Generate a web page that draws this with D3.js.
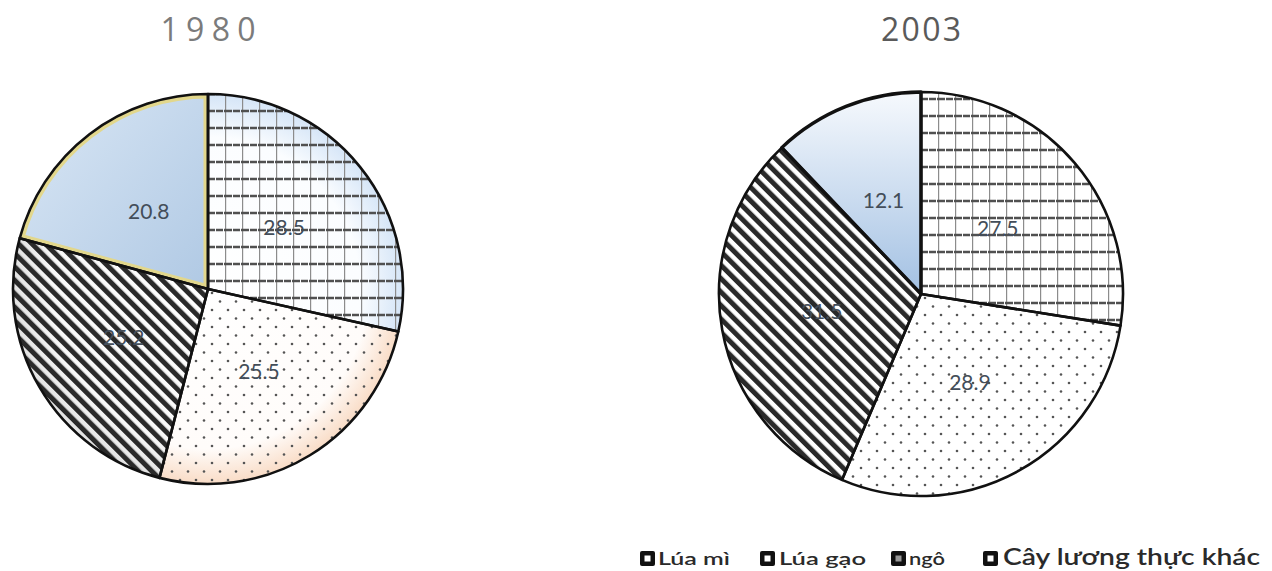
<!DOCTYPE html>
<html>
<head>
<meta charset="utf-8">
<script src="https://cdn.jsdelivr.net/npm/d3@7"></script>
<style>
  html, body { margin: 0; background: #fff; }
  svg { display: block; }
</style>
</head>
<body>
<svg id="chart" width="1272" height="571"></svg>
<script>
// data
const categories = ['Lúa mì', 'Lúa gạo', 'ngô', 'Cây lương thực khác'];
const years = ['1980', '2003'];
const values1980 = [28.5, 25.5, 25.2, 20.8];
const values2003 = [27.5, 28.9, 31.5, 12.1];

const svg = d3.select('#chart');
const defs = svg.append('defs');

// --- hatch patterns (shared) ---
const grid = defs.append('pattern').attr('id', 'grid')
  .attr('patternUnits', 'userSpaceOnUse').attr('width', 17).attr('height', 17);
grid.append('line').attr('x1', 0.5).attr('x2', 0.5).attr('y1', 0).attr('y2', 17)
  .attr('stroke', '#8c8c8c').attr('stroke-width', 1.4);
grid.append('line').attr('x1', 0).attr('x2', 17).attr('y1', 9).attr('y2', 9)
  .attr('stroke', '#505050').attr('stroke-width', 2.4).attr('stroke-dasharray', '7 1');

const dots = defs.append('pattern').attr('id', 'dots')
  .attr('patternUnits', 'userSpaceOnUse').attr('width', 16).attr('height', 17);
dots.append('circle').attr('cx', 4).attr('cy', 4).attr('r', 1.3).attr('fill', '#555');
dots.append('circle').attr('cx', 12).attr('cy', 12.5).attr('r', 1.3).attr('fill', '#555');

const stripes = defs.append('pattern').attr('id', 'stripes')
  .attr('patternUnits', 'userSpaceOnUse').attr('width', 9.5).attr('height', 9.5)
  .attr('patternTransform', 'rotate(-45)');
stripes.append('rect').attr('x', 0).attr('y', 0).attr('width', 5).attr('height', 9.5)
  .attr('fill', '#2a2a2a');

// --- layout ---
const pieLayout = [
  { cx: 208, cy: 289, r: 195, titleY: 41, titleW: 95, titleColor: '#7b7b7b',
    bases: ['rg-blue', 'rg-peach', 'rg-grey', 'lg-blue1'], edge: [null, null, null, '#e2d78c'],
    thick: [] },
  { cx: 921, cy: 294, r: 202, titleY: 41, titleW: 80, titleColor: '#5a5a5a',
    bases: ['#ffffff', '#ffffff', '#ffffff', 'lg-blue2'], edge: [null, null, null, null],
    thick: [3] }
];
const overlays = ['url(#grid)', 'url(#dots)', 'url(#stripes)', null];
const seriesByYear = [values1980, values2003];

function radial(id, r, stops) {
  const g = defs.append('radialGradient').attr('id', id)
    .attr('gradientUnits', 'userSpaceOnUse').attr('cx', 0).attr('cy', 0).attr('r', r);
  stops.forEach(([o, c]) => g.append('stop').attr('offset', o).attr('stop-color', c));
}
function linear(id, x1, y1, x2, y2, stops) {
  const g = defs.append('linearGradient').attr('id', id)
    .attr('gradientUnits', 'userSpaceOnUse')
    .attr('x1', x1).attr('y1', y1).attr('x2', x2).attr('y2', y2);
  stops.forEach(([o, c]) => g.append('stop').attr('offset', o).attr('stop-color', c));
}

const pie = d3.pie().sort(null).value(d => d);

pieLayout.forEach((L, i) => {
  const r = L.r;
  radial('rg-blue' + i, r, [[0, '#ffffff'], [0.78, '#fbfdff'], [1, '#d5e5f7']]);
  radial('rg-peach' + i, r, [[0, '#ffffff'], [0.82, '#fffcfa'], [1, '#f9dcc6']]);
  radial('rg-grey' + i, r, [[0, '#ffffff'], [0.8, '#f8f8f8'], [1, '#e2e2e2']]);
  linear('lg-blue1' + i, -r * 0.8, -r * 0.7, 0, 0, [[0, '#d0e0f1'], [1, '#b0c9e4']]);
  linear('lg-blue2' + i, 0, -r, 0, 0, [[0, '#f6f9fd'], [1, '#a3c1e3']]);

  const arc = d3.arc().innerRadius(0).outerRadius(r);
  const arcs = pie(seriesByYear[i]);
  const g = svg.append('g').attr('transform', `translate(${L.cx},${L.cy})`);

  // base fills
  g.selectAll('path.base').data(arcs).join('path').attr('class', 'base')
    .attr('d', arc)
    .attr('fill', (d, k) => L.bases[k].startsWith('#') ? L.bases[k] : `url(#${L.bases[k]}${i})`);

  // inner coloured edge (1980 "other" slice)
  arcs.forEach((d, k) => {
    if (!L.edge[k]) return;
    const cid = `clip-${i}-${k}`;
    defs.append('clipPath').attr('id', cid).append('path').attr('d', arc(d));
    g.append('path').attr('clip-path', `url(#${cid})`)
      .attr('d', arc(d)).attr('fill', 'none')
      .attr('stroke', L.edge[k]).attr('stroke-width', 9);
  });

  const g2 = svg.append('g').attr('transform', `translate(${L.cx},${L.cy})`);
  g2.selectAll('path.hatch').data(arcs.filter((d, k) => overlays[k])).join('path')
    .attr('class', 'hatch').attr('d', arc)
    .attr('fill', d => overlays[d.index]);

  g2.selectAll('path.outline').data(arcs).join('path').attr('class', 'outline')
    .attr('d', arc).attr('fill', 'none')
    .attr('stroke', '#111')
    .attr('stroke-width', (d, k) => L.thick.includes(k) ? 3.4 : 2.6)
    .attr('stroke-linejoin', 'round');

  // value labels at half radius
  g2.selectAll('text.val').data(arcs).join('text').attr('class', 'val')
    .attr('x', d => arc.centroid(d)[0])
    .attr('y', d => arc.centroid(d)[1])
    .attr('text-anchor', 'middle').attr('dy', '0.35em')
    .attr('font-family', 'Lato, "Open Sans", sans-serif')
    .attr('font-size', 21).attr('fill', '#434d59')
    .text(d => d3.format('.1f')(d.data));

  // title
  svg.append('text').attr('x', L.cx - L.titleW / 2).attr('y', L.titleY)
    .attr('textLength', L.titleW).attr('lengthAdjust', 'spacing')
    .attr('font-family', '"Open Sans", Lato, sans-serif').attr('font-size', 32)
    .attr('fill', L.titleColor).text(years[i]);
});

// --- legend ---
const legendLayout = [
  { sx: 640, tx: 658, tw: 72, fs: 18 },
  { sx: 760, tx: 779, tw: 87, fs: 18 },
  { sx: 891, tx: 909, tw: 36, fs: 18 },
  { sx: 983, tx: 1003, tw: 257, fs: 23 }
];
const legend = svg.append('g');
categories.forEach((c, k) => {
  const p = legendLayout[k];
  legend.append('rect').attr('x', p.sx).attr('y', 551).attr('width', 15).attr('height', 15)
    .attr('rx', 2).attr('fill', '#111');
  legend.append('rect').attr('x', p.sx + 4.5).attr('y', 555.5).attr('width', 6).attr('height', 6)
    .attr('fill', k === 2 ? '#999' : '#fff');
  legend.append('text').attr('x', p.tx).attr('y', 565)
    .attr('textLength', p.tw).attr('lengthAdjust', 'spacingAndGlyphs')
    .attr('font-family', 'Lato, "Open Sans", sans-serif').attr('font-size', p.fs)
    .attr('font-weight', 600)
    .attr('fill', '#2a2a2a').text(c);
});
</script>
</body>
</html>
